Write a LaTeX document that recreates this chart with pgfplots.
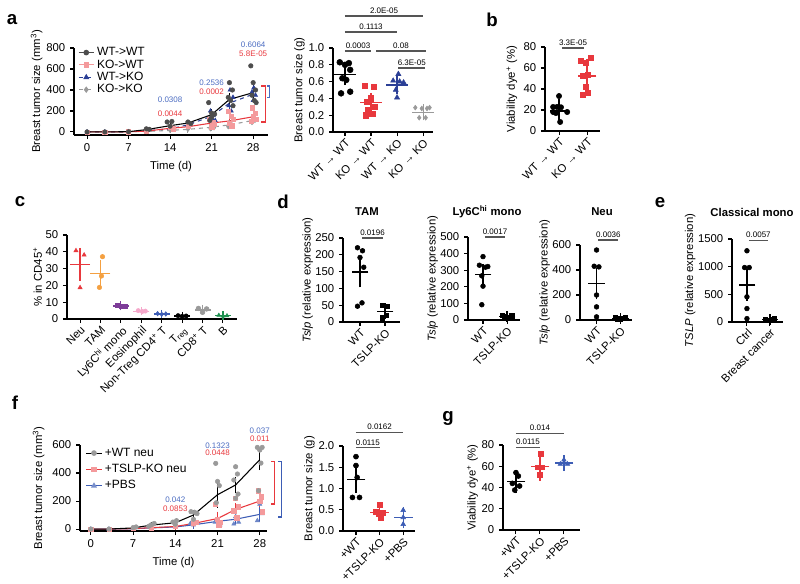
\documentclass[border=0pt]{standalone}
\usepackage{fontspec}
\setmainfont{Liberation Sans}
\usepackage{pgfplots}
\pgfplotsset{compat=1.18}

\definecolor{cred}{HTML}{E8383D}
\definecolor{cpink}{HTML}{F49A9C}
\definecolor{cnavy}{HTML}{2B3F96}
\definecolor{cblue}{HTML}{3D5DB5}
\definecolor{pblue}{HTML}{4B6CC1}
\definecolor{cgray}{HTML}{9A9A9A}
\definecolor{cdgray}{HTML}{4D4D4D}
\definecolor{corange}{HTML}{F4A041}
\definecolor{cpurple}{HTML}{7D3C98}
\definecolor{cpinkl}{HTML}{F5A8CB}
\definecolor{cgreen}{HTML}{1E9150}
\definecolor{bargray}{HTML}{555555}

\newcommand{\lab}{\fontsize{8.5}{9}\selectfont}
\newcommand{\leg}{\fontsize{9}{9.5}\selectfont}
\newcommand{\pv}{\fontsize{6}{6.5}\selectfont}
\newcommand{\sig}[4]{\draw[bargray, line width=0.9pt] (axis cs:#1,#3) -- (axis cs:#2,#3) node[midway, above, inner sep=1.5pt, black, font=\pv]{#4};}

\pgfplotsset{
  gp/.style={scale only axis, anchor=south west, clip=false,
    axis lines=left, axis line style={-, line width=0.8pt},
    tick align=outside, major tick length=3pt,
    tick style={line width=0.8pt, black},
    tick label style={font=\lab}, label style={font=\lab},
    ylabel shift=-4pt,
    /pgf/number format/assume math mode=true,
    /pgf/number format/1000 sep={}, scaled ticks=false},
  cat/.style={gp, xticklabel style={rotate=45, anchor=north east, inner sep=1pt}},
  sc/.style={only marks, mark size=#1, mark options={solid}},
  mb/.style 2 args={only marks, mark=-, mark size=#1, mark options={line width=0.9pt},
    error bars/y dir=both, error bars/y explicit, error bars/error mark=-,
    error bars/error mark options={mark size=#2, line width=0.9pt},
    error bars/error bar style={line width=0.9pt}},
  tl/.style={mark=none, line width=0.8pt,
    error bars/y dir=both, error bars/y explicit, error bars/error mark=-,
    error bars/error mark options={mark size=2pt, line width=0.8pt, solid},
    error bars/error bar style={line width=0.8pt, solid}},
  one/.style={yticklabel style={/pgf/number format/.cd, fixed, fixed zerofill, precision=1}},
}

\begin{document}
\begin{tikzpicture}
\begin{scope}[x=0.75pt, y=-0.75pt]
  \path[use as bounding box] (0,0) rectangle (800,581);
  \coordinate (A1) at (74,135);  \coordinate (A2) at (333,132);
  \coordinate (B)  at (545,131); \coordinate (C)  at (67,319);
  \coordinate (D1) at (343,322); \coordinate (D2) at (468,320);
  \coordinate (D3) at (580,320); \coordinate (E)  at (732,322);
  \coordinate (F1) at (80,531);  \coordinate (F2) at (343,531);
  \coordinate (G)  at (503,530);
  \begin{scope}[font=\fontsize{14}{14}\selectfont\bfseries]
    \node at (12,20) {a}; \node at (492,20) {b};
    \node at (20,202) {c}; \node at (283,202) {d};
    \node at (660,203) {e}; \node at (15,403) {f};
    \node at (448,418) {g};
  \end{scope}
  \begin{scope}[font=\lab\bfseries]
    \node at (367,212) {TAM};
    \node at (487,212) {Ly6C\textsuperscript{hi} mono};
    \node at (602,212) {Neu};
    \node at (752,212) {Classical mono};
  \end{scope}
\end{scope}

% ---------- a, time course
\begin{axis}[gp, at={(A1)}, width=145.5pt, height=65.25pt,
  xmin=-2.2, xmax=30.5, ymin=-29, ymax=800,
  xtick={0,7,14,21,28}, ytick={0,200,400,600,800},
  xlabel={Time (d)}, ylabel={Breast tumor size (mm\textsuperscript{3})},
  legend cell align=left,
  legend style={draw=none, fill=none, font=\leg, at={(0.02,1.04)}, anchor=north west,
    inner sep=0pt, row sep=-2.5pt},
  legend image code/.code={\draw[mark repeat=2, mark phase=2, #1] plot coordinates {(0cm,0cm) (0.2cm,0cm) (0.4cm,0cm)};}]
\addlegendimage{cdgray, mark=*, mark size=1.7pt, line width=0.8pt}
\addlegendentry{WT->WT}
\addlegendimage{cpink, mark=square*, mark size=1.6pt, line width=0.8pt}
\addlegendentry{KO->WT}
\addlegendimage{cnavy, dashed, mark=triangle*, mark size=1.8pt, mark options={solid}, line width=0.8pt}
\addlegendentry{WT->KO}
\addlegendimage{cgray, dashed, mark=diamond*, mark size=1.8pt, mark options={solid}, line width=0.8pt}
\addlegendentry{KO->KO}
\addplot[cgray, mark=diamond*, sc=1.7pt, forget plot] coordinates {(0,0)(3,0)(7,1)(10,5)(14,15)(17,25)(21,60)(21.4,40)(20.8,30)(24,90)(24.4,70)(23.8,50)(28,140)(28.3,110)(27.8,90)};
\addplot[cnavy, mark=triangle*, sc=1.8pt, forget plot] coordinates {(0,0)(3,0)(7,2)(10,12)(14,35)(17,65)(20.8,200)(21.3,160)(21,130)(21.6,110)(24.1,400)(24.6,330)(23.9,250)(24.3,200)(28.1,420)(27.8,380)(28.4,350)(28,300)};
\addplot[cpink, mark=square*, sc=1.6pt, forget plot] coordinates {(0,0)(3,0)(7,3)(10,10)(14,45)(14.5,30)(17,55)(20.6,120)(21.2,90)(21.5,70)(21,50)(23.8,200)(24.3,150)(24.6,120)(24,80)(24.4,60)(27.8,230)(28.3,180)(28,150)(28.5,120)(27.7,100)};
\addplot[cdgray, mark=*, sc=1.7pt, forget plot] coordinates {(0,0)(3,0)(7,2)(10,30)(10.5,25)(13.5,95)(14.3,100)(14,55)(17,95)(17.5,80)(20.5,280)(21,180)(21.5,170)(21,140)(20.7,110)(24,470)(24.5,400)(23.8,330)(24.2,300)(24.6,250)(27.6,630)(28,470)(28.4,400)(27.8,350)(28.2,300)(28.5,280)};
\addplot[cgray, dashed, tl, forget plot] coordinates {(0,0)(3,0)(7,1)(10,5)+-(0,2)(14,15)+-(0,3)(17,25)+-(0,5)(21,45)+-(0,6)(24,68)+-(0,8)(28,110)+-(0,10)};
\addplot[cnavy, dashed, tl, forget plot] coordinates {(0,0)(3,0)(7,2)(10,12)+-(0,3)(14,30)+-(0,6)(17,68)+-(0,10)(21,150)+-(0,15)(24,275)+-(0,30)(28,360)+-(0,25)};
\addplot[cred, tl, forget plot] coordinates {(0,0)(3,0)(7,2)(10,8)+-(0,2)(14,35)+-(0,5)(17,50)+-(0,6)(21,85)+-(0,12)(24,105)+-(0,20)(28,145)+-(0,22)};
\addplot[black, tl, forget plot] coordinates {(0,0)(3,0)(7,3)(10,22)+-(0,4)(14,60)+-(0,10)(17,85)+-(0,8)(21,165)+-(0,25)(24,310)+-(0,35)(28,375)+-(0,45)};
\node[pblue, font=\pv] at (axis cs:14,305) {0.0308};
\node[cred, font=\pv] at (axis cs:14,171) {0.0044};
\node[pblue, font=\pv] at (axis cs:21,467) {0.2536};
\node[cred, font=\pv] at (axis cs:21,381) {0.0002};
\node[pblue, font=\pv] at (axis cs:28,829) {0.6064};
\node[cred, font=\pv] at (axis cs:28,743) {5.8E-05};
\draw[cred, line width=0.8pt] (axis cs:29.4,438) -- (axis cs:30,438) -- (axis cs:30,95) -- (axis cs:29.4,95);
\draw[pblue, line width=0.8pt] (axis cs:30.3,438) -- (axis cs:30.8,438) -- (axis cs:30.8,330) -- (axis cs:30.3,330);
\end{axis}

% ---------- a, tumour weight
\begin{axis}[cat, one, at={(A2)}, width=75pt, height=63pt,
  xmin=0.54, xmax=4.38, ymin=0, ymax=1, ytick={0,0.2,0.4,0.6,0.8,1},
  xtick={1,2,3,4}, xticklabels={WT → WT, KO → WT, WT → KO, KO → KO},
  ylabel={Breast tumor size (g)}]
\addplot[black, mark=*, sc=2.2pt] coordinates {(0.8,0.83)(1.15,0.82)(1.0,0.80)(1.2,0.74)(0.9,0.64)(1.05,0.62)(1.2,0.48)(0.85,0.46)};
\addplot[black, mb={8pt}{4.5pt}] coordinates {(1,0.68)+-(0,0.05)};
\addplot[cred, mark=square*, sc=2pt] coordinates {(1.75,0.55)(2.1,0.54)(2.0,0.40)(1.85,0.36)(2.15,0.30)(1.9,0.26)(2.05,0.22)(1.8,0.20)};
\addplot[cred, mb={8pt}{4.5pt}] coordinates {(2,0.35)+-(0,0.045)};
\addplot[cnavy, mark=triangle*, sc=2.2pt] coordinates {(3.05,0.69)(2.85,0.61)(3.1,0.60)(3.25,0.59)(2.95,0.50)(3.0,0.41)};
\addplot[cnavy, mb={8pt}{4.5pt}] coordinates {(3,0.56)+-(0,0.04)};
\addplot[cgray, mark=diamond*, sc=1.8pt] coordinates {(3.7,0.29)(3.95,0.28)(4.15,0.28)(4.25,0.29)(3.85,0.17)(4.1,0.17)};
\addplot[cgray, mb={8pt}{4.5pt}] coordinates {(4,0.235)+-(0,0.025)};
\sig{1}{4}{1.381}{2.0E-05}
\sig{1}{3}{1.19}{0.1113}
\sig{1}{2}{0.964}{0.0003}
\sig{2.2}{4.1}{0.964}{0.08}
\sig{3.05}{4.08}{0.762}{6.3E-05}
\end{axis}

% ---------- b
\begin{axis}[cat, at={(B)}, width=41.25pt, height=63pt,
  xmin=0.5, xmax=2.46, ymin=0, ymax=80, ytick={0,20,40,60,80},
  xtick={1,2}, xticklabels={WT → WT, KO → WT}, ylabel shift=-2pt,
  ylabel={Viability dye\textsuperscript{+} (\%)}]
\addplot[black, mark=*, sc=2pt] coordinates {(1.0,33.3)(0.79,22.9)(0.93,22.9)(1.07,22.6)(0.79,18.1)(1.29,18.1)(0.89,17.1)(1.04,8.6)};
\addplot[black, mb={7pt}{4pt}] coordinates {(1,19)+-(0,6.5)};
\addplot[cred, mark=square*, sc=1.9pt] coordinates {(1.79,66.7)(1.96,64.8)(2.14,69.5)(1.86,52.4)(2.04,53.3)(1.96,41.9)(2.04,36.2)(1.86,34.3)};
\addplot[cred, mb={7pt}{4pt}] coordinates {(2,52.4)+-(0,11.5)};
\sig{1.11}{1.89}{79}{3.3E-05}
\end{axis}

% ---------- c
\begin{axis}[cat, at={(C)}, width=127.5pt, height=63pt,
  xmin=0.36, xmax=8.69, ymin=0, ymax=50, ytick={0,10,20,30,40,50},
  xtick={1,...,8},
  xticklabels={Neu, TAM, Ly6C\textsuperscript{hi} mono, Eosinophil, Non-Treg CD4\textsuperscript{+} T, T\textsubscript{reg}, CD8\textsuperscript{+} T, B},
  ylabel={\% in CD45\textsuperscript{+}}]
\addplot[cred, mark=triangle*, sc=1.8pt] coordinates {(0.8,40.7)(1.2,38.1)(1.0,18.7)};
\addplot[cred, mb={7.5pt}{3.5pt}] coordinates {(1,32.5)+-(0,7)};
\addplot[corange, mark=*, sc=1.7pt] coordinates {(2.1,37.1)(2.05,25.6)(1.95,18.8)};
\addplot[corange, mb={7.5pt}{3.5pt}] coordinates {(2,27.2)+-(0,5.3)};
\addplot[cpurple, mark=square*, sc=1.6pt] coordinates {(2.85,8.3)(3.05,7.6)(3.2,7.6)};
\addplot[cpurple, mb={6pt}{3pt}] coordinates {(3,7.8)+-(0,0.3)};
\addplot[cpinkl, mark=*, sc=1.6pt] coordinates {(3.85,5.0)(4.05,4.5)(4.2,4.7)};
\addplot[cpinkl, mb={6pt}{3pt}] coordinates {(4,4.7)+-(0,0.2)};
\addplot[cblue, mark=diamond*, sc=1.7pt] coordinates {(4.8,3.2)(5.0,2.8)(5.2,3.0)};
\addplot[cblue, mb={6pt}{3pt}] coordinates {(5,3.0)+-(0,0.1)};
\addplot[black, mark=*, sc=1.6pt] coordinates {(5.8,2.0)(6.0,1.6)(6.2,1.8)};
\addplot[black, mb={6pt}{3pt}] coordinates {(6,1.8)+-(0,0.1)};
\addplot[cgray, mark=*, sc=1.8pt] coordinates {(6.8,6.3)(7.0,4.0)(7.2,6.0)};
\addplot[cgray, mb={6pt}{3pt}] coordinates {(7,5.4)+-(0,0.7)};
\addplot[cgreen, mark=triangle*, sc=1.7pt] coordinates {(7.8,2.2)(8.0,1.8)(8.2,1.9)};
\addplot[cgreen, mb={6pt}{3pt}] coordinates {(8,2.0)+-(0,0.1)};
\end{axis}

% ---------- d, TAM
\begin{axis}[cat, at={(D1)}, width=42.75pt, height=63pt,
  xmin=0.32, xmax=2.6, ymin=0, ymax=250, ytick={0,50,100,150,200,250},
  xtick={1,2}, xticklabels={WT, TSLP-KO}, ylabel shift=-5pt,
  ylabel={\textit{Tslp} (relative expression)}]
\addplot[black, mark=*, sc=1.8pt] coordinates {(0.9,221)(1.1,212)(1.0,192)(1.15,163)(0.9,47)(1.08,57)};
\addplot[black, mb={6.25pt}{3.75pt}] coordinates {(1,149)+-(0,31)};
\addplot[black, mark=square*, sc=1.6pt] coordinates {(1.9,49)(2.1,47)(1.9,13)(2.05,20)};
\addplot[black, mb={6.25pt}{3.75pt}] coordinates {(2,32)+-(0,9)};
\sig{1.08}{1.92}{250}{0.0196}
\end{axis}

% ---------- d, Ly6Chi mono
\begin{axis}[cat, at={(D2)}, width=39pt, height=62.25pt,
  xmin=0.375, xmax=2.54, ymin=0, ymax=500, ytick={0,100,200,300,400,500},
  xtick={1,2}, xticklabels={WT, TSLP-KO}, ylabel shift=-5pt,
  ylabel={\textit{Tslp} (relative expression)}]
\addplot[black, mark=*, sc=1.8pt] coordinates {(1.0,382)(0.85,330)(1.1,318)(1.2,322)(0.95,266)(1.0,204)(0.95,92)};
\addplot[black, mb={6.25pt}{3.75pt}] coordinates {(1,273)+-(0,35)};
\addplot[black, mark=square*, sc=1.6pt] coordinates {(1.8,28)(1.9,22)(2.0,15)(2.1,18)(2.2,25)};
\addplot[black, mb={6.25pt}{3.75pt}] coordinates {(2,22)+-(0,3)};
\sig{1.08}{1.92}{500}{0.0017}
\end{axis}

% ---------- d, Neu
\begin{axis}[cat, at={(D3)}, width=39pt, height=56.25pt,
  xmin=0.3, xmax=2.5, ymin=0, ymax=600, ytick={0,200,400,600},
  xtick={1,2}, xticklabels={WT, TSLP-KO}, ylabel shift=-5pt,
  ylabel={\textit{Tslp} (relative expression)}]
\addplot[black, mark=*, sc=1.8pt] coordinates {(1.0,560)(0.9,430)(1.1,425)(1.0,200)(1.0,105)(1.0,25)};
\addplot[black, mb={6.25pt}{3.75pt}] coordinates {(1,291)+-(0,85)};
\addplot[black, mark=square*, sc=1.6pt] coordinates {(1.8,20)(1.9,10)(2.0,5)(2.1,12)(2.2,18)};
\addplot[black, mb={6.25pt}{3.75pt}] coordinates {(2,13)+-(0,3)};
\sig{1.08}{1.92}{640}{0.0036}
\end{axis}

% ---------- e
\begin{axis}[cat, at={(E)}, width=38.25pt, height=62.25pt,
  xmin=0.35, xmax=2.57, ymin=0, ymax=1500, ytick={0,500,1000,1500},
  xtick={1,2}, xticklabels={Ctrl, Breast cancer}, ylabel shift=-5pt,
  ylabel={\textit{TSLP} (relative expression)}]
\addplot[black, mark=*, sc=1.8pt] coordinates {(1.0,1287)(0.9,984)(1.1,984)(1.0,455)(1.0,243)(1.0,61)};
\addplot[black, mb={6.25pt}{3.75pt}] coordinates {(1,669)+-(0,190)};
\addplot[black, mark=square*, sc=1.6pt] coordinates {(1.8,40)(1.9,25)(2.0,30)(2.1,45)(2.2,60)};
\addplot[black, mb={6.25pt}{3.75pt}] coordinates {(2,40)+-(0,6)};
\sig{1.08}{1.92}{1480}{0.0057}
\end{axis}

% ---------- f, time course
\begin{axis}[gp, at={(F1)}, width=140.25pt, height=64.5pt,
  xmin=-1.8, xmax=29.2, ymin=-14, ymax=600,
  xtick={0,7,14,21,28}, ytick={0,200,400,600}, ylabel shift=-1pt,
  xlabel={Time (d)}, ylabel={Breast tumor size (mm\textsuperscript{3})},
  legend cell align=left,
  legend style={draw=none, fill=none, font=\leg, at={(0.03,1.0)}, anchor=north west,
    inner sep=0pt, row sep=0.5pt},
  legend image code/.code={\draw[mark repeat=2, mark phase=2, #1] plot coordinates {(0cm,0cm) (0.2cm,0cm) (0.4cm,0cm)};}]
\addlegendimage{black, mark=*, mark size=1.7pt, mark options={cgray}, line width=0.8pt}
\addlegendentry{+WT neu}
\addlegendimage{cred, mark=square*, mark size=1.6pt, mark options={cpink}, line width=0.8pt}
\addlegendentry{+TSLP-KO neu}
\addlegendimage{cblue, mark=triangle*, mark size=1.8pt, mark options={cblue!70}, line width=0.8pt}
\addlegendentry{+PBS}
\addplot[cblue!75, mark=triangle*, sc=1.8pt, forget plot] coordinates {(0,0)(3,0)(7,2)(10,8)(14,15)(17,30)(16.5,40)(21,60)(20.6,50)(21.4,30)(24,90)(24.5,50)(23.7,36)(28,178)(28.4,110)(27.6,60)};
\addplot[cpink, mark=square*, sc=1.6pt, forget plot] coordinates {(0,0)(3,0)(7,3)(10,10)(14,18)(17,40)(17.5,50)(20.6,178)(21,70)(21.4,50)(21.2,30)(24,221)(24.4,160)(23.7,130)(24.2,80)(27.7,274)(28.3,230)(28,200)(28.4,124)};
\addplot[cgray, mark=*, sc=1.7pt, forget plot] coordinates {(0,0)(3,0)(7,10)(7.5,15)(10,30)(10.5,40)(9.6,20)(13.6,50)(14.2,60)(14,35)(16.6,124)(17.2,120)(17.6,110)(17,70)(20.7,469)(21,340)(21.3,310)(20.8,188)(24,445)(24.3,393)(23.7,350)(24.4,250)(24,220)(27.6,583)(28.4,583)(28,564)(28.2,471)(27.8,274)};
\addplot[cblue, tl, forget plot] coordinates {(0,0)(3,0)(7,2)(10,8)(14,15)+-(0,4)(17,30)+-(0,8)(21,55)+-(0,12)(24,70)+-(0,15)(28,105)+-(0,35)};
\addplot[cred, tl, forget plot] coordinates {(0,0)(3,0)(7,3)(10,10)(14,18)+-(0,4)(17,40)+-(0,8)(21,75)+-(0,30)(24,140)+-(0,25)(28,200)+-(0,25)};
\addplot[black, tl, forget plot] coordinates {(0,0)(3,0)(7,8)(10,28)+-(0,5)(14,45)+-(0,6)(17,100)+-(0,15)(21,245)+-(0,75)(24,315)+-(0,40)(28,495)+-(0,55)};
\node[pblue, font=\pv] at (axis cs:14,207) {0.042};
\node[cred, font=\pv] at (axis cs:14,143) {0.0853};
\node[pblue, font=\pv] at (axis cs:21,593) {0.1323};
\node[cred, font=\pv] at (axis cs:21,543) {0.0448};
\node[pblue, font=\pv] at (axis cs:28,700) {0.037};
\node[cred, font=\pv] at (axis cs:28,643) {0.011};
\draw[cred, line width=0.8pt] (axis cs:29.9,479) -- (axis cs:30.5,479) -- (axis cs:30.5,179) -- (axis cs:29.9,179);
\draw[cblue, line width=0.8pt] (axis cs:31.0,479) -- (axis cs:31.6,479) -- (axis cs:31.6,86) -- (axis cs:31.0,86);
\end{axis}

% ---------- f, tumour weight
\begin{axis}[cat, one, at={(F2)}, width=54pt, height=63.75pt,
  xmin=0.45, xmax=3.5, ymin=0, ymax=2, ytick={0,0.5,1,1.5,2},
  xtick={1,2,3}, xticklabels={+WT, +TSLP-KO, +PBS},
  ylabel={Breast tumor size (g)}]
\addplot[black, mark=*, sc=1.9pt] coordinates {(1.0,1.75)(1.0,1.54)(1.05,1.26)(0.85,0.79)(1.15,0.79)};
\addplot[black, mb={7pt}{4pt}] coordinates {(1,1.22)+-(0,0.2)};
\addplot[cred, mark=square*, sc=1.8pt] coordinates {(2.0,0.61)(1.85,0.45)(2.15,0.43)(1.95,0.40)(2.05,0.31)};
\addplot[cred, mb={7pt}{4pt}] coordinates {(2,0.43)+-(0,0.06)};
\addplot[cblue, mark=triangle*, sc=2pt] coordinates {(3.0,0.49)(3.0,0.32)(3.0,0.16)};
\addplot[cblue, mb={7pt}{4pt}] coordinates {(3,0.31)+-(0,0.12)};
\sig{1}{2}{1.96}{0.0115}
\sig{1}{3}{2.32}{0.0162}
\end{axis}

% ---------- g
\begin{axis}[cat, at={(G)}, width=57.75pt, height=63.75pt,
  xmin=0.46, xmax=3.67, ymin=0, ymax=80, ytick={0,20,40,60,80},
  xtick={1,2,3}, xticklabels={+WT, +TSLP-KO, +PBS},
  ylabel={Viability dye\textsuperscript{+} (\%)}]
\addplot[black, mark=*, sc=1.9pt] coordinates {(1.0,54)(1.1,50.8)(0.85,43.9)(1.15,41.4)(0.95,37.6)};
\addplot[black, mb={7pt}{4pt}] coordinates {(1,45.5)+-(0,6)};
\addplot[cred, mark=square*, sc=1.8pt] coordinates {(2.05,71.5)(1.9,59)(2.1,59)(2.0,51.8)};
\addplot[cred, mb={7pt}{4pt}] coordinates {(2,60)+-(0,8.5)};
\addplot[cblue, mark=triangle*, sc=2pt] coordinates {(3.0,66)(2.85,62)(3.15,62)};
\addplot[cblue, mb={7pt}{4pt}] coordinates {(3,63)+-(0,2.5)};
\sig{1}{2}{77.5}{0.0115}
\sig{1}{3}{91}{0.014}
\end{axis}
\end{tikzpicture}
\end{document}
